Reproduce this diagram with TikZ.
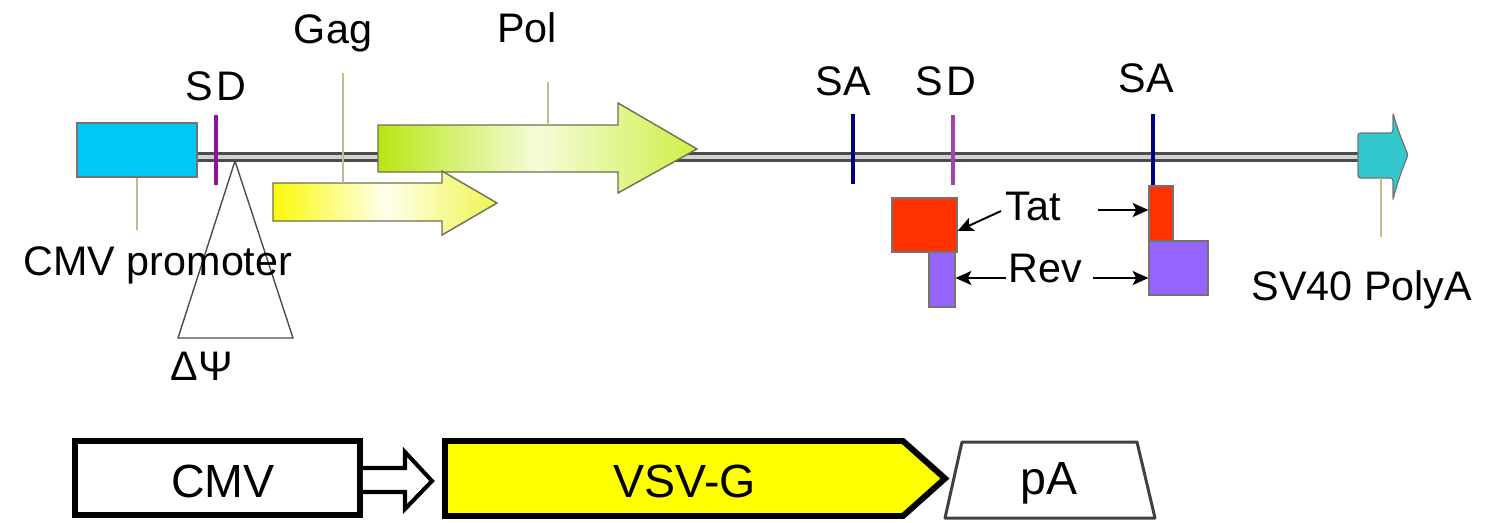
\documentclass[tikz,border=0pt]{standalone}
\usepackage{fontspec}
\newfontfamily\arialfont{Liberation Sans}
\usetikzlibrary{arrows.meta,calc}

\definecolor{promcyan}{RGB}{0,200,245}
\definecolor{sdpurple}{RGB}{140,20,150}
\definecolor{sanavy}{RGB}{0,0,130}
\definecolor{tatred}{RGB}{255,50,0}
\definecolor{revviolet}{RGB}{150,100,255}
\definecolor{polyteal}{RGB}{50,200,205}
\definecolor{leadtan}{RGB}{195,185,140}
\definecolor{gagyellow}{RGB}{250,250,10}
\definecolor{gagpale}{RGB}{240,245,80}
\definecolor{polgreen}{RGB}{185,230,20}
\definecolor{polpale}{RGB}{205,240,70}
\definecolor{orfedge}{RGB}{110,110,80}
\definecolor{vsvyellow}{RGB}{255,255,0}

\tikzset{
  toplbl/.style={font=\arialfont\fontsize{23.5}{27}\selectfont, inner sep=0pt, anchor=base},
  botlbl/.style={font=\arialfont\fontsize{26.5}{30}\selectfont, inner sep=0pt},
  sitetick/.style={line width=2.6pt},
  leader/.style={draw=leadtan, line width=0.9pt},
  ptr/.style={-{Stealth[length=9pt,width=8pt,inset=2pt]}, line width=1.1pt},
  exon/.style={draw=black!55, line width=0.6pt, inner sep=0pt},
  orf/.style={draw=orfedge, line width=0.8pt},
  cassette/.style={draw=black, line width=3.4pt, line join=miter}
}

\begin{document}
\begin{tikzpicture}[x=0.02cm,y=-0.02cm]
\useasboundingbox (0,0) rectangle (1485,522);

% ---------- packaging construct ----------
\coordinate (bbL) at (197,157);
\coordinate (bbR) at (1358,157);
\draw[draw=gray!60!black, double=gray!35, double distance=2.5pt, line width=1.4pt] (bbL) -- (bbR);

% splice sites
\draw[sitetick, sdpurple] (216,115) -- (216,185);
\draw[sitetick, sanavy]   (853,114) -- (853,184);
\draw[sitetick, sdpurple!80] (953,115) -- (953,185);
\draw[sitetick, sanavy]   (1153,114) -- (1153,186);

% packaging signal deletion
\draw[black!70, line width=0.8pt] (235,161) -- (178,338) -- (293,338) -- cycle;

% CMV promoter
\node[exon, fill=promcyan, minimum width=2.4cm, minimum height=1.08cm] (cmvprom) at (137,150) {};

% Pol open reading frame
\shadedraw[orf, left color=polgreen, right color=polpale, middle color=white!80!polpale]
  (378,125) -- (618,125) -- (618,103) -- (697,149) -- (618,193) -- (618,172) -- (378,172) -- cycle;
% Gag open reading frame
\shadedraw[orf, left color=gagyellow, right color=gagpale, middle color=white!92!yellow]
  (273,183) -- (442,183) -- (442,171) -- (497,203) -- (442,235) -- (442,221) -- (273,221) -- cycle;

% SV40 polyA
\draw[exon, fill=polyteal, line width=0.7pt, rounded corners=1.5pt]
  (1358,133) -- (1393,133) -- (1393,113)
  .. controls (1397,128) and (1402,140) .. (1408,155)
  .. controls (1402,170) and (1397,183) .. (1393,200)
  -- (1393,178) -- (1358,178) -- cycle;
\coordinate (svtop) at (1381,178);

% labels
\node[toplbl] (sdA) at (216,100) {S\kern0.08em D};
\node[toplbl] (gag) at (333,43) {Gag};
\node[toplbl] (pol) at (527,42) {Pol};
\node[toplbl] (saA) at (843,95) {SA};
\node[toplbl] (sdB) at (946,95) {S\kern0.08em D};
\node[toplbl] (saB) at (1146,92) {SA};
\node[toplbl] (cmvtxt) at (158,275) {CMV promoter};
\node[toplbl] (psi) at (202,380) {ΔΨ};
\node[toplbl] (svtxt) at (1362,300) {SV40 PolyA};
\node[toplbl] (tat) at (1033,220) {Tat};
\node[toplbl] (rev) at (1045,282) {Rev};

% leader lines
\coordinate (gagtop) at (343,73);
\coordinate (poltop) at (548,82);
\coordinate (cmvend) at (137,230);
\coordinate (svend) at (1381,237);
\draw[leader] (gagtop) -- (343,183);
\draw[leader] (poltop) -- (548,125);
\draw[leader] (cmvprom.south) -- (cmvend);
\draw[leader] (svtop) -- (svend);

% Tat and Rev exons
\node[exon, fill=tatred, minimum width=1.3cm, minimum height=1.08cm] (tat1) at (924.5,225) {};
\node[exon, fill=revviolet, minimum width=0.52cm, minimum height=1.1cm] (rev1) at (942,279.5) {};
\node[exon, fill=tatred, minimum width=0.48cm, minimum height=1.1cm] (tat2) at (1161,213.5) {};
\node[exon, fill=revviolet, minimum width=1.18cm, minimum height=1.08cm] (rev2) at (1178.5,268) {};

\coordinate (tatfromL) at (1001,211);
\coordinate (revfromL) at (1006,278);
\coordinate (tatfromR) at (1098,210);
\coordinate (revfromR) at (1093,278);
\draw[ptr] (tatfromL) -- ($(tat1.east)+(0,6)$);
\draw[ptr] (revfromL) -- (revfromL -| rev1.east);
\draw[ptr] (tatfromR) -- (tatfromR -| tat2.west);
\draw[ptr] (revfromR) -- (revfromR -| rev2.west);

% ---------- envelope construct ----------
\node[cassette, fill=white, minimum width=5.7cm, minimum height=1.48cm] (cmvbox) at (217.5,478) {};
\node[botlbl] (cmvlbl) at (223,481) {CMV};

\coordinate (vsvL) at (445,441);
\draw[cassette, fill=vsvyellow]
  (vsvL) -- (903,441) -- (945,478.5) -- (903,516) -- (445,516) -- cycle;
\node[botlbl] (vsvlbl) at (685,481) {VSV-G};

\draw[cassette, fill=white, line width=2.3pt]
  (cmvbox.east |- 0,468) -- (405,468) -- (405,452) -- (432,481) -- (405,509) -- (405,492) -- (cmvbox.east |- 0,492);

\draw[draw=black!75, line width=1.7pt, fill=white, line join=round]
  (962,442) -- (1137,442) -- (1155,518) -- (945,518) -- cycle;
\node[botlbl] (palbl) at (1049,483) {pA};
\end{tikzpicture}
\end{document}
